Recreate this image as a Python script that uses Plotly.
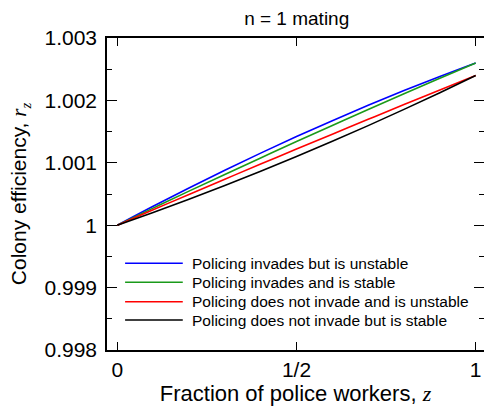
import plotly.graph_objects as go

# fraction of police workers
z = [0, 0.1, 0.2, 0.3, 0.4, 0.5, 0.6, 0.7, 0.8, 0.9, 1.0]

# colony efficiency r_z
invades_unstable = [1.0, 1.000303, 1.000597, 1.000881, 1.001155, 1.001420,
                    1.001675, 1.001921, 1.002157, 1.002383, 1.0026]
invades_stable = [1.0, 1.000274, 1.000546, 1.000814, 1.001078, 1.001340,
                  1.001598, 1.001854, 1.002106, 1.002354, 1.0026]
noinvade_unstable = [1.0, 1.000247, 1.000493, 1.000737, 1.000979, 1.001220,
                     1.001459, 1.001697, 1.001933, 1.002167, 1.0024]
noinvade_stable = [1.0, 1.000204, 1.000416, 1.000636, 1.000864, 1.001100,
                   1.001344, 1.001596, 1.001856, 1.002124, 1.0024]

names = ["Policing invades but is unstable",
         "Policing invades and is stable",
         "Policing does not invade and is unstable",
         "Policing does not invade but is stable"]
colors = ["#0000ff", "#1a9a1a", "#ff0000", "#000000"]
series = [invades_unstable, invades_stable, noinvade_unstable, noinvade_stable]

y_ticks = [0.998, 0.999, 1.0, 1.001, 1.002, 1.003]
y_labels = ["0.998", "0.999", "1", "1.001", "1.002", "1.003"]
x_ticks = [0, 0.5, 1]
x_labels = ["0", "1/2", "1"]

FONT = "Liberation Sans, Arial, sans-serif"
SERIF = "Liberation Serif, Times New Roman, serif"

fig = go.Figure()
for name, col, ys in zip(names, colors, series):
    fig.add_trace(go.Scatter(x=z, y=ys, mode="lines", name=name,
                             line=dict(color=col, width=1.6, shape="spline")))

# hand-drawn legend (long sample lines like the original)
legend_y = [0.278, 0.217, 0.155, 0.096]
for name, col, ly in zip(names, colors, legend_y):
    fig.add_shape(type="line", xref="paper", yref="paper",
                  x0=0.048, x1=0.201, y0=ly, y1=ly,
                  line=dict(color=col, width=1.5))
    fig.add_annotation(text=name, xref="paper", yref="paper",
                       x=0.22, y=ly, xanchor="left", yanchor="middle",
                       showarrow=False, font=dict(size=15.5, color="black"))

fig.update_layout(
    width=484, height=408,
    margin=dict(l=107, r=0, t=38, b=58, autoexpand=False),
    plot_bgcolor="white", paper_bgcolor="white",
    font=dict(family=FONT, color="black"),
    showlegend=False,
    title=dict(text="n = 1 mating", x=0.613, xanchor="center",
               y=0.955, yanchor="middle", font=dict(size=19)),
)
fig.update_xaxes(
    range=[-0.0287, 1.0232], tickvals=x_ticks, ticktext=x_labels,
    ticks="inside", ticklen=8, tickwidth=1.2, tickcolor="black",
    showline=True, linecolor="black", linewidth=1.5, mirror="ticks",
    showgrid=False, zeroline=False, tickfont=dict(size=21),
    automargin=False,
    title=dict(text="Fraction of police workers, <span style=\"font-family:"
               + SERIF + "\"><i>z</i></span>",
               font=dict(size=22), standoff=4),
)
fig.update_yaxes(
    range=[0.998, 1.003], tickvals=y_ticks, ticktext=y_labels,
    ticks="inside", ticklen=10, tickwidth=1.2, tickcolor="black",
    minor=dict(dtick=0.0005, ticks="inside", ticklen=5, tickcolor="black",
               showgrid=False),
    showline=True, linecolor="black", linewidth=1.5, mirror="ticks",
    showgrid=False, zeroline=False, tickfont=dict(size=21),
    ticklabelstandoff=4, automargin=False,
    title=dict(text="Colony efficiency, <span style=\"font-family:"
               + SERIF + "\"><i>r</i><sub><i>z</i></sub></span>",
               font=dict(size=21), standoff=12),
)

# drop the default page margin so the figure sits at the window's corner
fig.write_html("out.html", config={"displayModeBar": False},
               post_script="document.body.style.margin='0';")
